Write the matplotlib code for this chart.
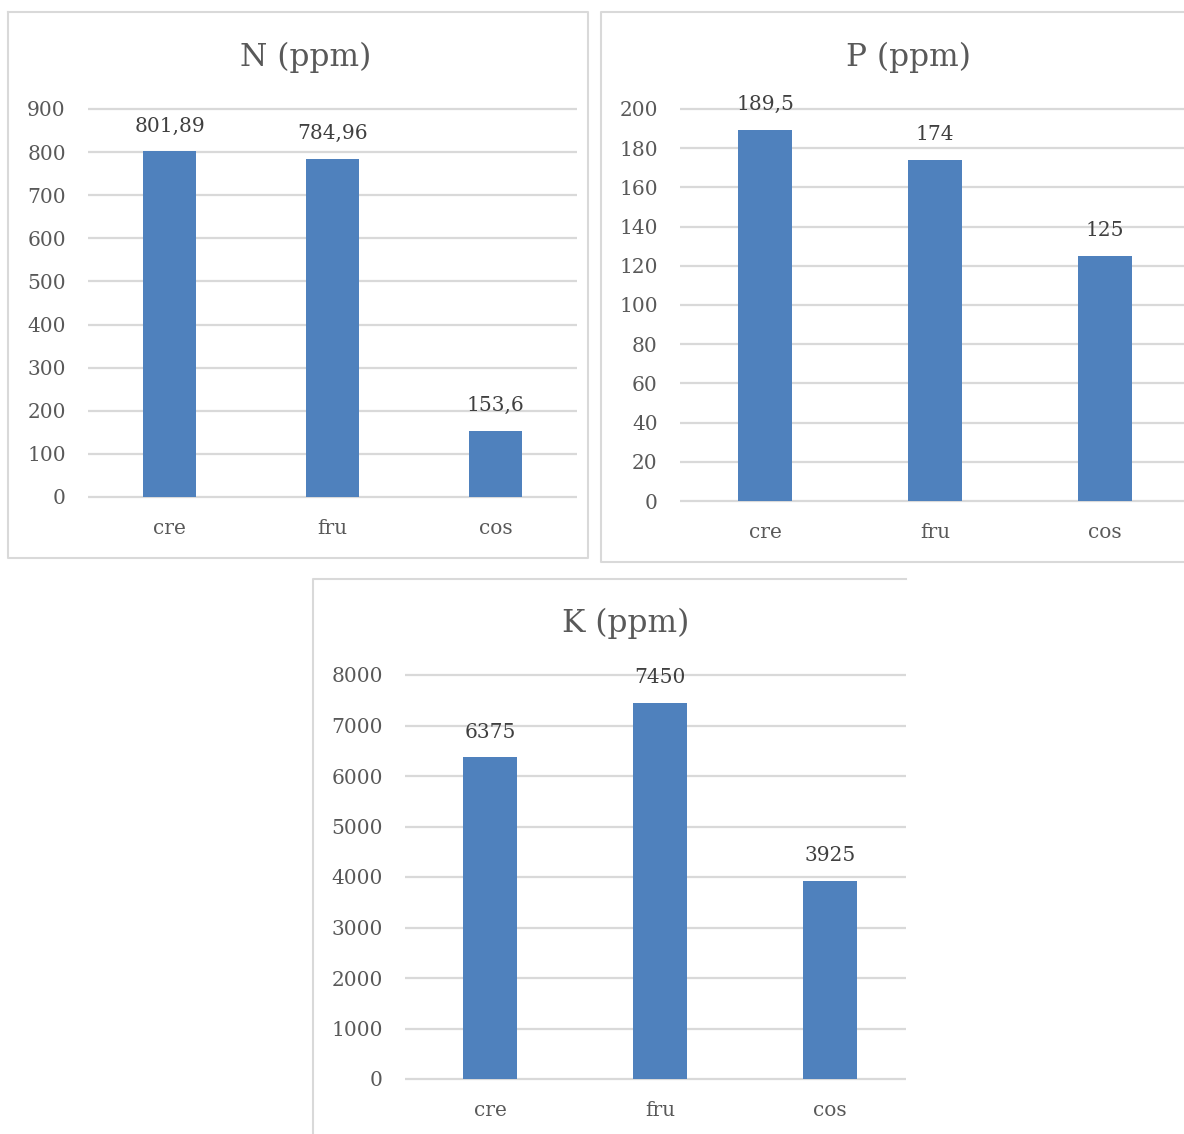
import matplotlib
matplotlib.use("Agg")
import matplotlib.pyplot as plt
from matplotlib.lines import Line2D

# Data
categories = ["cre", "fru", "cos"]
n_values = [801.89, 784.96, 153.6]
p_values = [189.5, 174, 125]
k_values = [6375, 7450, 3925]
n_labels = ["801,89", "784,96", "153,6"]
p_labels = ["189,5", "174", "125"]
k_labels = ["6375", "7450", "3925"]

W, H = 1184, 1134
DPI = 100
BAR = "#4f81bd"
GRID = "#d9d9d9"
TXT = "#595959"
LBL = "#404040"

plt.rcParams["font.family"] = ["DejaVu Serif"]

fig = plt.figure(figsize=(W / DPI, H / DPI), dpi=DPI)
fig.patch.set_facecolor("white")


def fx(x):
    return x / W


def fy(y):
    return 1 - y / H


def panel_axes(left, right, top, bottom):
    return fig.add_axes([fx(left), fy(bottom), fx(right) - fx(left), fy(top) - fy(bottom)])


def draw_panel(ax, values, labels, ymax, step, xmax, title, title_xy):
    x = list(range(len(categories)))
    ax.bar(x, values, width=0.32, color=BAR, zorder=3)
    ax.set_xlim(-0.5, xmax)
    ax.set_ylim(0, ymax)
    ax.set_yticks(list(range(0, ymax + 1, step)))
    ax.set_xticks(x)
    ax.set_xticklabels(categories)
    for s in ax.spines.values():
        s.set_visible(False)
    ax.grid(axis="y", color=GRID, linewidth=1.6, zorder=0)
    for gl in ax.get_ygridlines():
        gl.set_clip_on(False)
        gl.set_solid_capstyle("butt")
    ax.set_axisbelow(True)
    ax.tick_params(axis="y", length=0, pad=16, labelsize=14.5, labelcolor=TXT)
    ax.tick_params(axis="x", length=0, pad=16, labelsize=14.5, labelcolor=TXT)
    for xi, v, t in zip(x, values, labels):
        ax.annotate(t, (xi, v), xytext=(0, 18), textcoords="offset points",
                    ha="center", va="center", fontsize=14.5, color=LBL,
                    annotation_clip=False, zorder=4)
    fig.text(fx(title_xy[0]), fy(title_xy[1]), title, ha="center", va="center",
             fontsize=22.5, color=TXT)


# Chart frames
def frame_line(xs, ys):
    fig.add_artist(Line2D([fx(v) for v in xs], [fy(v) for v in ys],
                          color=GRID, linewidth=1.5, transform=fig.transFigure))


frame_line([8, 588, 588, 8, 8], [12, 12, 558, 558, 12])
frame_line([1184, 601, 601, 1184], [12, 12, 562, 562])
frame_line([313, 313, 906], [1134, 579, 579])

ax1 = panel_axes(88, 577, 109, 497)
draw_panel(ax1, n_values, n_labels, 900, 100, 2.5, "N (ppm)", (306, 57))

ax2 = panel_axes(680, 1184, 109, 501)
draw_panel(ax2, p_values, p_labels, 200, 20, -0.5 + (1184 - 680) / 170, "P (ppm)", (908, 57))

ax3 = panel_axes(405, 906, 675, 1079)
draw_panel(ax3, k_values, k_labels, 8000, 1000, -0.5 + (906 - 405) / 170, "K (ppm)", (626, 623))

fig.savefig("out.png", dpi=DPI, facecolor="white")
